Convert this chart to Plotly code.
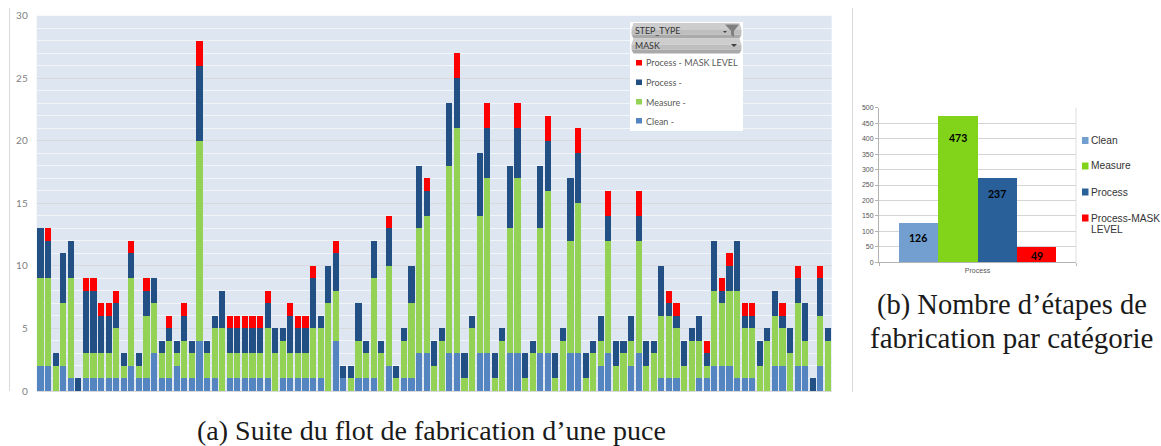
import plotly.graph_objects as go

W, H = 1161, 446

# ---------- chart (a): steps per mask level ----------
clean = [2,2,0,2,1,0,1,1,1,1,1,1,2,1,1,3,1,1,2,1,1,4,1,1,0,1,1,1,1,1,1,0,1,1,1,
         1,1,1,0,4,1,0,1,1,1,0,2,0,1,1,3,3,0,0,3,3,0,0,3,3,0,0,3,3,0,0,3,3,0,0,
         3,3,0,0,2,3,0,0,2,3,0,0,1,1,1,0,0,1,1,2,2,2,1,1,1,0,0,2,2,0,2,2,0,2,0]
measure = [7,7,2,5,8,0,2,2,2,2,4,1,7,1,5,4,2,3,1,3,2,16,2,4,5,2,2,2,2,2,4,3,3,2,2,
           2,4,4,7,4,0,1,3,2,8,3,8,1,3,6,10,11,2,4,15,18,1,5,11,14,1,4,10,14,1,3,10,13,1,4,
           9,12,1,3,2,9,2,3,2,9,2,3,5,5,4,2,4,3,1,6,5,6,7,4,4,2,4,4,3,3,5,2,0,4,4]
process = [4,3,1,4,3,1,5,5,3,3,2,1,2,1,2,2,1,1,1,2,1,6,1,1,3,2,2,2,2,2,2,2,1,3,2,
           2,4,1,3,3,1,1,3,1,3,1,3,1,1,3,5,2,2,1,5,4,2,1,5,4,2,1,5,4,2,1,5,4,2,1,
           5,4,2,1,2,2,2,1,2,2,2,1,4,1,1,2,1,2,1,4,1,2,4,1,1,2,1,2,1,2,2,3,1,3,1]
mask_level = [0,1,0,0,0,0,1,1,1,1,1,0,1,0,1,0,0,1,0,1,0,2,0,0,0,1,1,1,1,1,1,0,0,1,1,
              1,1,0,0,1,0,0,0,0,0,0,1,0,0,0,0,1,0,0,0,2,0,0,0,2,0,0,0,2,0,0,0,2,0,0,
              0,2,0,0,0,2,0,0,0,2,0,0,0,1,1,0,0,0,1,0,1,1,0,1,1,0,0,0,1,0,1,0,0,1,0]
steps = list(range(1, len(clean) + 1))

series_a = ["Clean -", "Measure -", "Process -", "Process - MASK LEVEL"]
colors_a = ["#5585C1", "#94D255", "#224F84", "#FF0000"]
values_a = [clean, measure, process, mask_level]
yticks_a = [0, 5, 10, 15, 20, 25, 30]

# ---------- chart (b): totals per category ----------
series_b = ["Clean", "Measure", "Process", "Process-MASK LEVEL"]
values_b = [126, 473, 273, 49]
labels_b = ["126", "473", "237", "49"]
colors_b = ["#729FCF", "#81D41A", "#2A6099", "#FF0000"]
label_drop_b = [15, 22, 16, 9]
yticks_b = list(range(0, 501, 50))

fig = go.Figure()

for name, vals, col in zip(series_a, values_a, colors_a):
    fig.add_trace(go.Bar(x=steps, y=vals, name=name, marker=dict(color=col, line=dict(width=0)),
                         showlegend=False, xaxis="x", yaxis="y"))

for i, (name, val, col) in enumerate(zip(series_b, values_b, colors_b)):
    fig.add_trace(go.Bar(x=[i], y=[val], name=name, width=1,
                         marker=dict(color=col, line=dict(width=0)),
                         showlegend=False, xaxis="x2", yaxis="y2"))


def px(x):
    return x / W


def py(y):
    return 1 - y / H


annotations = []
shapes = []


def text(x, y, s, size, color, family="Lato", anchor="left", bold=False):
    annotations.append(dict(xref="paper", yref="paper", x=px(x), y=py(y), text=s, showarrow=False,
                            xanchor=anchor, yanchor="middle", align=anchor, borderpad=0,
                            font=dict(family=family, size=size, color=color,
                                      weight="bold" if bold else "normal")))


def rect(x0, y0, x1, y1, color):
    shapes.append(dict(type="rect", xref="paper", yref="paper", x0=px(x0), x1=px(x1),
                       y0=py(y0), y1=py(y1), fillcolor=color, line=dict(width=0), layer="above"))


def poly(points, color):
    d = "M" + " L".join(f"{px(a):.5f},{py(b):.5f}" for a, b in points) + " Z"
    shapes.append(dict(type="path", xref="paper", yref="paper", path=d, fillcolor=color,
                       line=dict(width=0), layer="above"))


def vline(x, y0, y1, color):
    shapes.append(dict(type="line", xref="paper", yref="paper", x0=px(x), x1=px(x),
                       y0=py(y0), y1=py(y1), line=dict(color=color, width=1), layer="above"))


def pill(x0, y0, x1, y1):
    # rounded header, shaded in three bands like the pivot-chart button
    bands = [(0.0, 0.4, "#CDCDCD"), (0.4, 0.75, "#BEBEBE"), (0.75, 1.0, "#A9A9A9")]
    for a, b, col in bands:
        ya, yb = y0 + (y1 - y0) * a, y0 + (y1 - y0) * b
        inset_a = 2 if a == 0 else 0
        inset_b = 2 if b == 1 else 0
        poly([(x0 + inset_a, ya), (x1 - inset_a, ya), (x1 - inset_b, yb), (x0 + inset_b, yb)], col)


# frame lines of the source picture
vline(9.5, 8, 391, "#DADADA")
vline(852.5, 8, 392, "#DADADA")
vline(1076, 107.7, 264, "#DDDDDD")

# pivot-chart legend box
rect(630, 22, 743, 131, "#FFFFFF")
pill(631.5, 23, 741.5, 38.5)
pill(631.5, 38.5, 741.5, 53.5)
text(634, 30.5, "STEP_TYPE", 8.8, "#333333")
text(634, 46, "MASK", 8.8, "#333333")
poly([(725, 24.5), (739, 24.5), (734, 31), (734, 37), (731, 35), (731, 31)], "#808080")
poly([(723, 31), (727, 31), (725, 33)], "#404040")
poly([(731, 44), (737, 44), (734, 47)], "#404040")
legend_a_rows = [63, 82.5, 102, 121]
for y, name, col in zip(legend_a_rows, series_a[::-1], colors_a[::-1]):
    rect(636, y - 3, 642, y + 2.5, col)
    text(645, y, name, 9, "#595959")

# chart (b) legend
legend_b_rows = [140.5, 166, 192, 218]
for y, name, col in zip(legend_b_rows, series_b, colors_b):
    rect(1082, y - 3.5, 1088.5, y + 3.5, col)
text(1089.5, 140.5, "Clean", 10.2, "#333333", "Liberation Sans")
text(1089.5, 166, "Measure", 10.2, "#333333", "Liberation Sans")
text(1089.5, 192, "Process", 10.2, "#333333", "Liberation Sans")
text(1089.5, 218, "Process-MASK", 10.2, "#333333", "Liberation Sans")
text(1089.5, 229, "LEVEL", 10.2, "#333333", "Liberation Sans")

# chart (b) value labels
for i, (val, lab, drop) in enumerate(zip(values_b, labels_b, label_drop_b)):
    annotations.append(dict(xref="x2", yref="y2", x=i, y=val, text=lab, showarrow=False,
                            yshift=-drop, yanchor="middle", borderpad=0,
                            font=dict(family="Lato", size=10.5, color="#000000", weight="bold")))

# captions
text(431, 430, "(a) Suite du flot de fabrication d\u2019une puce", 28, "#1a1a1a", "Liberation Serif", "center")
text(1012, 305, "(b) Nombre d\u2019\u00e9tapes de", 28.5, "#1a1a1a", "Liberation Serif", "center")
text(1011, 338, "fabrication par cat\u00e9gorie", 29, "#1a1a1a", "Liberation Serif", "center")

fig.update_layout(
    width=W, height=H, margin=dict(l=0, r=0, t=0, b=0, autoexpand=False),
    paper_bgcolor="#FFFFFF", plot_bgcolor="#FFFFFF",
    barmode="stack", bargap=0.2, showlegend=False,
    annotations=annotations, shapes=shapes,
    xaxis=dict(domain=[px(36.7), px(831.7)], range=[0.5, len(steps) + 0.5], showticklabels=False,
               ticks="", showgrid=False, zeroline=False, showline=True, linecolor="#D9D9D9", linewidth=1),
    yaxis=dict(domain=[py(391), py(15.7)], range=[0, 30], tickvals=yticks_a, ticks="",
               tickfont=dict(family="Lato", size=10, color="#7F7F7F"), ticklabelstandoff=8,
               showgrid=True, gridcolor="#D6DADF", gridwidth=1, zeroline=False, showline=False,
               minor=dict(dtick=1, showgrid=True, gridcolor="#F2F5F9", gridwidth=1, ticks="")),
    xaxis2=dict(domain=[px(879), px(1076)], range=[-1, 4], tickvals=[1.5], ticktext=["Process"], ticks="",
                tickfont=dict(family="Liberation Sans", size=7, color="#555555"), showgrid=False,
                zeroline=False, showline=True, linecolor="#B3B3B3", linewidth=1, anchor="y2",
                mirror=False, ticklabelstandoff=1,
                minor=dict(tickvals=[-1, 4], ticks="outside", ticklen=3, tickcolor="#B3B3B3", showgrid=False)),
    yaxis2=dict(domain=[py(262.3), py(107.7)], range=[0, 500], tickvals=yticks_b, anchor="x2",
                tickfont=dict(family="Liberation Sans", size=7, color="#555555"), ticks="outside",
                ticklen=3, tickcolor="#B3B3B3", showgrid=True, gridcolor="#D4D4D4", gridwidth=1,
                zeroline=False, showline=True, linecolor="#B3B3B3", linewidth=1, ticklabelstandoff=0),
)
# (a) plot background lives on a shape so that (b) stays white
fig.add_shape(type="rect", xref="paper", yref="paper", x0=px(36.7), x1=px(831.7), y0=py(391), y1=py(15.7),
              fillcolor="#DEE7F1", line=dict(width=0), layer="below")

fig.write_html("out.html", config={"displayModeBar": False}, post_script="document.body.style.margin='0';")
